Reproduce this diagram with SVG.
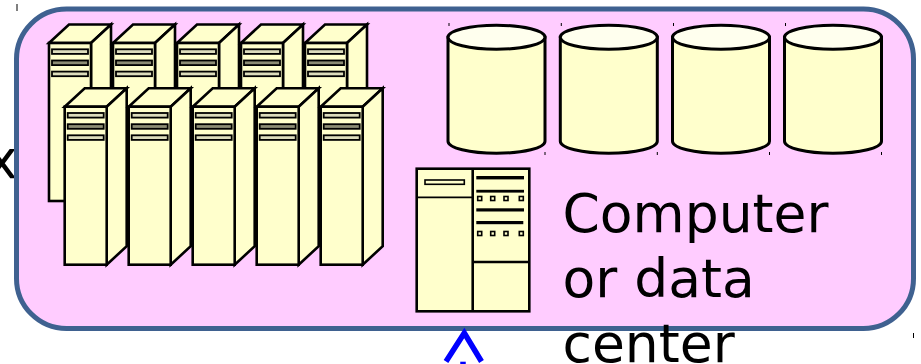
<svg xmlns="http://www.w3.org/2000/svg" xmlns:xlink="http://www.w3.org/1999/xlink" width="921" height="364" viewBox="0 0 921 364">
  <style>
    .ink{stroke:#000;stroke-width:2.6;stroke-linejoin:miter}
    .srv{fill:#ffffcc}
    .bar1{fill:#dcdcbc;stroke:#000;stroke-width:1.8}
    .bar2{fill:#8c8c74;stroke:#000;stroke-width:1.8}
    .cyl{fill:#ffffcc;stroke:#000;stroke-width:3}
    .cyltop{fill:#ffffee;stroke:#000;stroke-width:3}
    .lbl{font-family:"DejaVu Sans",sans-serif;font-size:53.5px;fill:#000}
    .tick{stroke:#000;stroke-width:1}
    .sq{fill:#ffffcc;stroke:#000;stroke-width:1.6}
  </style>
  <defs>
    <g id="server">
      <polygon class="ink srv" points="0,0 20,-18.5 62,-18.5 42,0"/>
      <polygon class="ink srv" points="42,0 62,-18.5 62,139.5 42,158"/>
      <rect class="ink srv" x="0" y="0" width="42" height="158"/>
      <rect class="bar1" x="3" y="6.3" width="36" height="4.6"/>
      <rect class="bar2" x="3" y="17.5" width="36" height="4.6"/>
      <rect class="bar1" x="3" y="28.6" width="36" height="4.6"/>
    </g>
    <g id="cylinder">
      <path class="cyl" d="M-48.5,37.3 L-48.5,141.3 A48.5,12 0 0 0 48.5,141.3 L48.5,37.3 Z"/>
      <ellipse class="cyltop" cx="0" cy="37.3" rx="48.5" ry="12"/>
    </g>
  </defs>

  <!-- partially visible text at left edge -->
  <text class="lbl" x="-14" y="178">x</text>

  <g id="datacenter">
    <rect x="16.5" y="9" width="897" height="319.5" rx="50" ry="50" fill="#ffccff" stroke="#3f6190" stroke-width="5"/>
    <line class="tick" x1="17" y1="4" x2="17" y2="11"/>
    <line class="tick" x1="913.5" y1="333" x2="913.5" y2="338"/>
  </g>

  <g id="servers-back">
    <use xlink:href="#server" x="49" y="43"/>
    <use xlink:href="#server" x="113" y="43"/>
    <use xlink:href="#server" x="177" y="43"/>
    <use xlink:href="#server" x="241" y="43"/>
    <use xlink:href="#server" x="305" y="43"/>
  </g>
  <g id="servers-front">
    <use xlink:href="#server" x="64.7" y="106.7"/>
    <use xlink:href="#server" x="128.7" y="106.7"/>
    <use xlink:href="#server" x="192.7" y="106.7"/>
    <use xlink:href="#server" x="256.7" y="106.7"/>
    <use xlink:href="#server" x="320.7" y="106.7"/>
  </g>

  <g id="storage">
    <use xlink:href="#cylinder" x="496.5" y="0"/>
    <use xlink:href="#cylinder" x="608.8" y="0"/>
    <use xlink:href="#cylinder" x="721" y="0"/>
    <use xlink:href="#cylinder" x="833" y="0"/>
    <g class="tick">
      <line x1="449" y1="23" x2="449" y2="26"/>
      <line x1="545" y1="152" x2="545" y2="155"/>
      <line x1="561.3" y1="23" x2="561.3" y2="26"/>
      <line x1="657.3" y1="152" x2="657.3" y2="155"/>
      <line x1="673.5" y1="23" x2="673.5" y2="26"/>
      <line x1="769.5" y1="152" x2="769.5" y2="155"/>
      <line x1="785.5" y1="23" x2="785.5" y2="26"/>
      <line x1="881.5" y1="152" x2="881.5" y2="155"/>
    </g>
  </g>

  <g id="tower">
    <rect class="ink srv" x="416.7" y="168.7" width="112.6" height="142.6"/>
    <line class="ink" x1="472.7" y1="168.7" x2="472.7" y2="311.3"/>
    <line stroke="#000" stroke-width="1.8" x1="416.7" y1="197.3" x2="472.7" y2="197.3"/>
    <line class="ink" x1="472.7" y1="262" x2="529.3" y2="262"/>
    <rect x="425" y="180" width="39.3" height="4.3" fill="#ffffcc" stroke="#000" stroke-width="1.6"/>
    <rect x="476.3" y="176" width="47.7" height="3.4" fill="#000"/>
    <rect x="476.3" y="189.8" width="47.7" height="2.8" fill="#000"/>
    <rect class="sq" x="477.7" y="196.5" width="4" height="4"/>
    <rect class="sq" x="490.7" y="196.5" width="4" height="4"/>
    <rect class="sq" x="504" y="196.5" width="4" height="4"/>
    <rect class="sq" x="519.3" y="196.5" width="4" height="4"/>
    <rect x="476.3" y="208.3" width="47.7" height="3.2" fill="#000"/>
    <rect x="476.3" y="221" width="47" height="3.2" fill="#000"/>
    <rect class="sq" x="477.7" y="231.5" width="4" height="4"/>
    <rect class="sq" x="490.7" y="231.5" width="4" height="4"/>
    <rect class="sq" x="504" y="231.5" width="4" height="4"/>
    <rect class="sq" x="519.3" y="231.5" width="4" height="4"/>
  </g>

  <g id="label">
    <text class="lbl" x="562.5" y="231.7">Computer</text>
    <text class="lbl" x="562.5" y="296.7">or data</text>
    <text class="lbl" x="562.5" y="361.7">center</text>
  </g>

  <g id="connectors">
    <polyline points="446,361.5 464.3,333 481.5,361.5" fill="none" stroke="#0000ff" stroke-width="5.5" stroke-linejoin="miter"/>
    <line x1="463" y1="361.7" x2="463" y2="370" stroke="#0000ff" stroke-width="5.5"/>
  </g>
</svg>
